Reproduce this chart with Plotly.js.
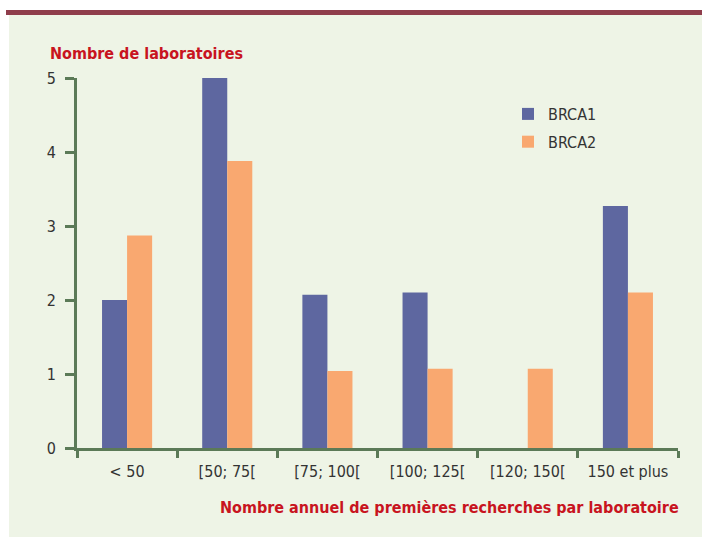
<!DOCTYPE html>
<html>
<head>
<meta charset="utf-8">
<script src="https://cdn.plot.ly/plotly-3.0.1.min.js"></script>
<style>
html,body{margin:0;padding:0;background:#ffffff;}
#chart{width:702px;height:537px;}
</style>
</head>
<body>
<div id="chart"></div>
<script>
// ---- Data ----
const categories = ["< 50", "[50; 75[", "[75; 100[", "[100; 125[", "[120; 150[", "150 et plus"];
const brca1 = [2.0, 5.0, 2.07, 2.1, 0, 3.27];
const brca2 = [2.87, 3.88, 1.04, 1.07, 1.07, 2.1];
const seriesNames = ["BRCA1", "BRCA2"];
const yTickVals = [0, 1, 2, 3, 4, 5];
const yTitle = "Nombre de laboratoires";
const xTitle = "Nombre annuel de premières recherches par laboratoire";

// ---- Style ----
const W = 702, H = 537;
const M = {l: 77, r: 24, t: 78, b: 89};
const PW = W - M.l - M.r, PH = H - M.t - M.b;
const px = x => (x - M.l) / PW;
const py = y => (H - M.b - y) / PH;
const axisColor = '#5b7a57';
const titleRed = '#c8141f';
const tickFont = {family: 'DejaVu Sans Condensed, DejaVu Sans', size: 16, color: '#333333'};
const legendFont = {family: 'DejaVu Sans Condensed, DejaVu Sans', size: 16, color: '#333333'};
const boldFont = {family: 'DejaVu Sans Condensed, DejaVu Sans', size: 16, color: titleRed, weight: 'bold'};

const traces = [
  {type: 'bar', name: seriesNames[0], x: categories, y: brca1, marker: {color: '#5e67a0'}, legendgroup: 'a', hoverinfo: 'none'},
  {type: 'bar', name: seriesNames[1], x: categories, y: brca2, marker: {color: '#f9a870'}, legendgroup: 'b', hoverinfo: 'none'}
];

const layout = {
  width: W, height: H,
  margin: M,
  paper_bgcolor: '#ffffff',
  plot_bgcolor: 'rgba(0,0,0,0)',
  barmode: 'group',
  bargap: 0.5,
  bargroupgap: 0,
  showlegend: true,
  legend: {
    x: px(508), y: py(97), xanchor: 'left', yanchor: 'top',
    bgcolor: 'rgba(0,0,0,0)', font: legendFont,
    traceorder: 'grouped', tracegroupgap: 4
  },
  xaxis: {
    type: 'category', range: [-0.5, 5.5],
    showline: true, linecolor: axisColor, linewidth: 3,
    ticks: 'outside', tickson: 'boundaries', ticklen: 7, tickwidth: 3, tickcolor: axisColor,
    ticklabelstandoff: 7,
    tickfont: tickFont, showgrid: false, zeroline: false, fixedrange: true
  },
  yaxis: {
    range: [0, 5], tickvals: yTickVals,
    showline: true, linecolor: axisColor, linewidth: 3,
    ticks: 'outside', ticklen: 9, tickwidth: 3, tickcolor: axisColor,
    ticklabelstandoff: 6,
    tickfont: tickFont, showgrid: false, zeroline: false, fixedrange: true
  },
  shapes: [
    {type: 'rect', xref: 'paper', yref: 'paper', layer: 'below',
     x0: px(9), x1: px(702), y0: py(537), y1: py(15),
     fillcolor: '#eef4e6', line: {width: 0}},
    {type: 'rect', xref: 'paper', yref: 'paper', layer: 'below',
     x0: px(6), x1: px(702), y0: py(15), y1: py(10),
     fillcolor: '#8f3d4b', line: {width: 0}}
  ],
  annotations: [
    {text: yTitle, xref: 'paper', yref: 'paper', x: px(48), y: py(53),
     xanchor: 'left', yanchor: 'middle', showarrow: false, font: boldFont},
    {text: xTitle, xref: 'paper', yref: 'paper', x: px(681), y: py(507),
     xanchor: 'right', yanchor: 'middle', showarrow: false, font: boldFont}
  ]
};

Plotly.newPlot('chart', traces, layout, {displayModeBar: false, staticPlot: true});
</script>
</body>
</html>
